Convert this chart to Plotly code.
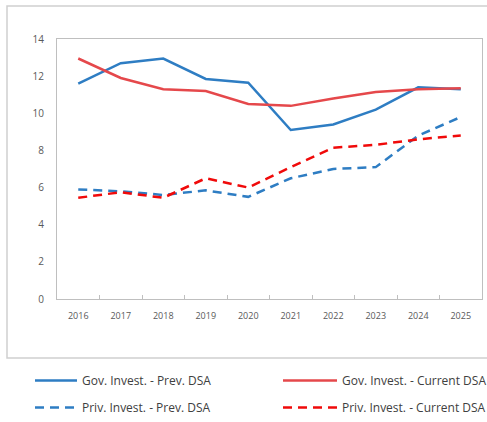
import plotly.graph_objects as go

years = ["2016", "2017", "2018", "2019", "2020", "2021", "2022", "2023", "2024", "2025"]
gov_prev = [11.6, 12.7, 12.95, 11.85, 11.65, 9.1, 9.4, 10.2, 11.4, 11.3]
gov_curr = [12.95, 11.9, 11.3, 11.2, 10.5, 10.4, 10.8, 11.15, 11.3, 11.35]
priv_prev = [5.9, 5.8, 5.6, 5.85, 5.5, 6.5, 7.0, 7.1, 8.8, 9.8]
priv_curr = [5.45, 5.75, 5.45, 6.5, 6.0, 7.1, 8.15, 8.3, 8.6, 8.8]

BLUE = "#2e7dc3"
RED = "#e5484b"
RED_D = "#f00a0a"
W, H = 487, 422

fig = go.Figure()
fig.add_trace(go.Scatter(x=years, y=gov_prev, mode="lines", name="Gov. Invest. - Prev. DSA",
                         line=dict(color=BLUE, width=2.5), legend="legend", legendgroup="a"))
fig.add_trace(go.Scatter(x=years, y=priv_prev, mode="lines", name="Priv. Invest. - Prev. DSA",
                         line=dict(color=BLUE, width=2.5, dash="9px,6px"), legend="legend", legendgroup="b"))
fig.add_trace(go.Scatter(x=years, y=gov_curr, mode="lines", name="Gov. Invest. - Current DSA",
                         line=dict(color=RED, width=2.5), legend="legend2", legendgroup="c"))
fig.add_trace(go.Scatter(x=years, y=priv_curr, mode="lines", name="Priv. Invest. - Current DSA",
                         line=dict(color=RED_D, width=2.5, dash="9px,6px"), legend="legend2", legendgroup="d"))

leg = dict(orientation="v", yanchor="top", y=1 - 366 / H, bgcolor="rgba(0,0,0,0)",
           font=dict(size=12, color="#404040"), tracegroupgap=8)

fig.update_layout(
    width=W, height=H,
    margin=dict(l=0, r=0, t=0, b=0, autoexpand=False),
    paper_bgcolor="white", plot_bgcolor="white",
    font=dict(family="Open Sans, sans-serif", color="#595959"),
    xaxis=dict(domain=[57 / W, 482 / W], type="category", range=[-0.5, 9.5], showgrid=False,
               showline=True, linecolor="#bfbfbf", linewidth=1, mirror=True, automargin=False,
               ticks="inside", ticklen=4, tickcolor="#bfbfbf", tickson="boundaries",
               ticklabelstandoff=8, tickfont=dict(size=9, color="#595959")),
    yaxis=dict(domain=[1 - 299 / H, 1 - 39 / H], range=[0, 14], dtick=2, showgrid=False,
               showline=True, linecolor="#bfbfbf", linewidth=1, mirror=True, automargin=False,
               ticks="", ticklabelstandoff=10, tickfont=dict(size=10, color="#595959"),
               zeroline=False),
    legend=dict(leg, x=30 / W, xanchor="left", itemwidth=42),
    legend2=dict(leg, x=278 / W, xanchor="left", itemwidth=54),
    shapes=[dict(type="rect", xref="paper", yref="paper", x0=7 / W, x1=1.02,
                 y0=1 - 358 / H, y1=1 - 6 / H, line=dict(color="#d0d0d0", width=1.5))],
)

# page has a default 8px body margin; drop it so the figure fills the window
fig.write_html("out.html", config={"displayModeBar": False},
               post_script="document.body.style.margin='0';")
